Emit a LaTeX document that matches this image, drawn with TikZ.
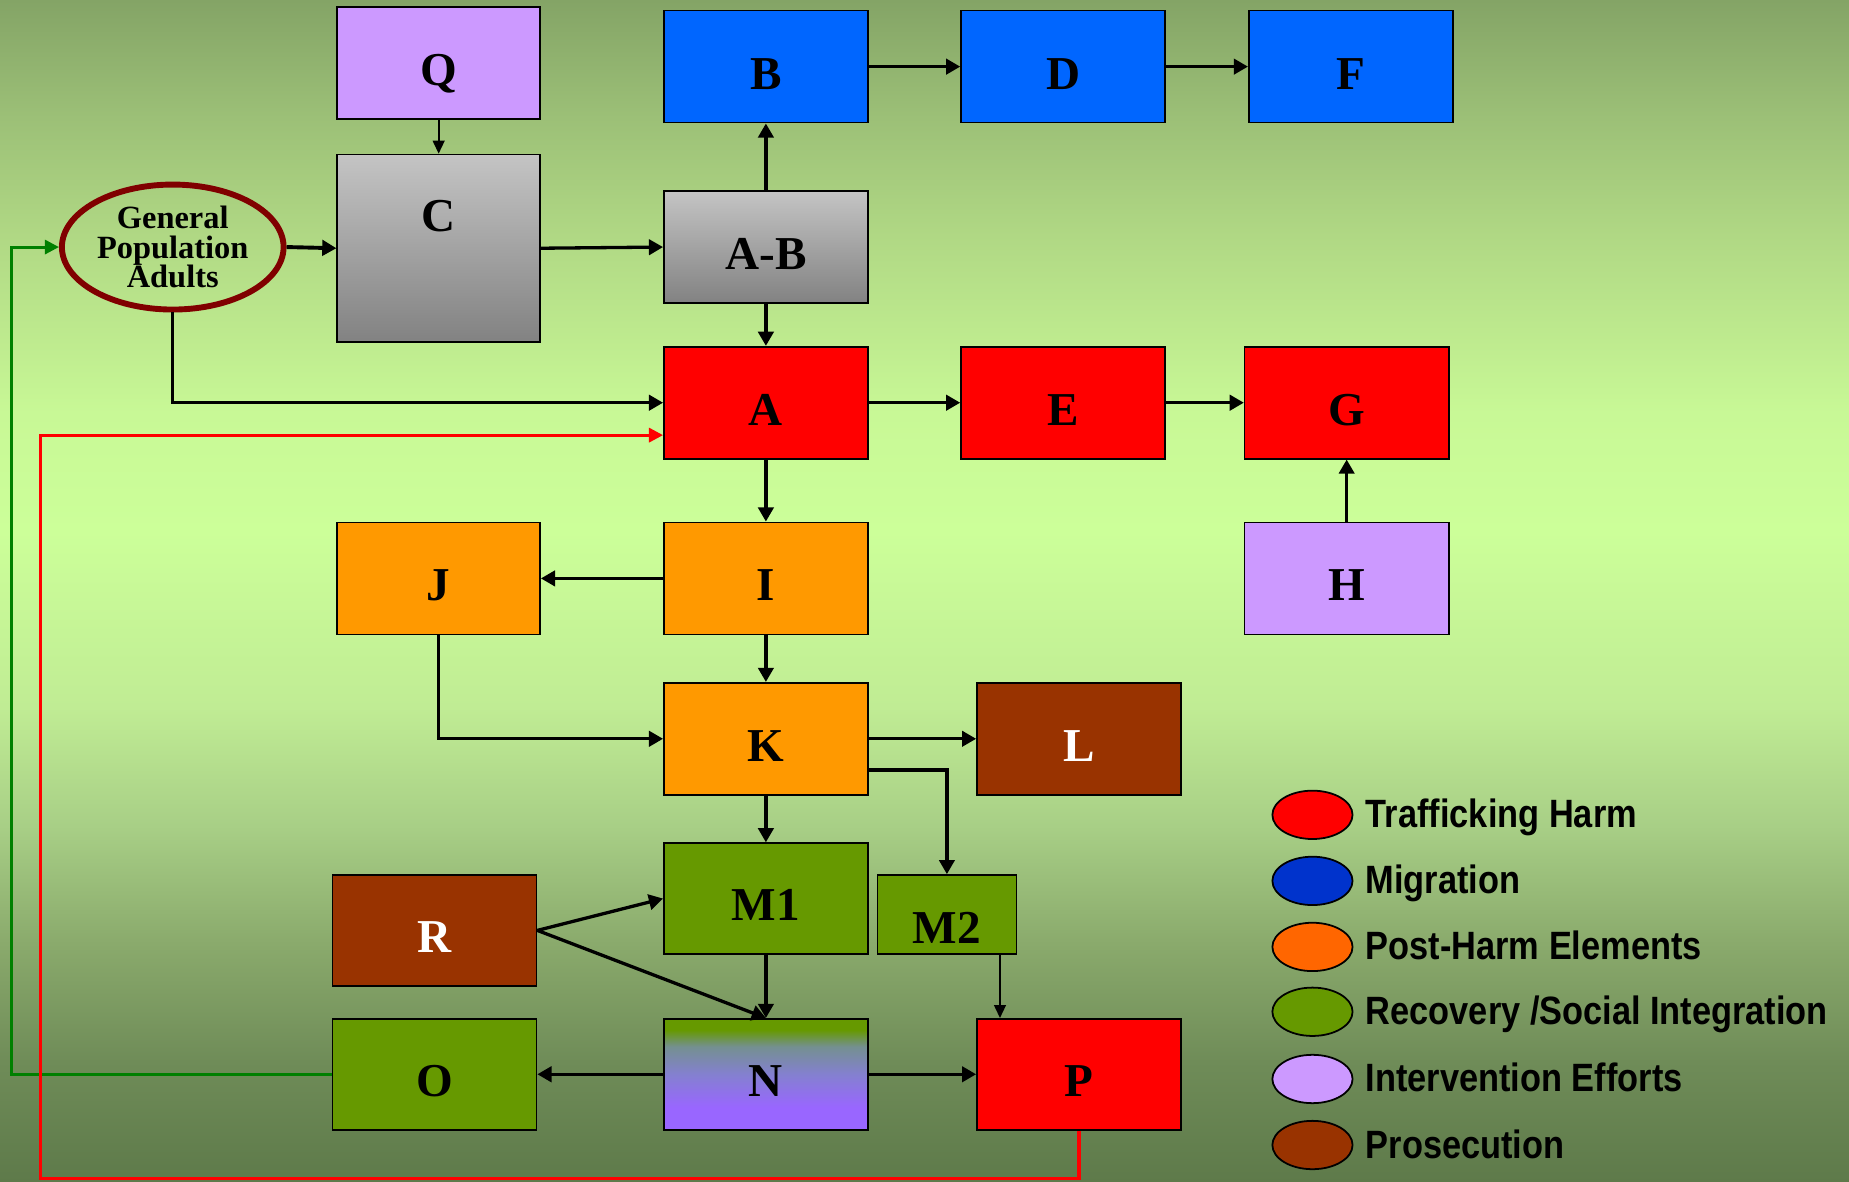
\documentclass[tikz,border=0pt]{standalone}
\usepackage{fontspec}
\setmainfont{Liberation Serif}
\newfontfamily\legfont[FakeStretch=0.87]{Liberation Sans}
\usetikzlibrary{arrows.meta,shapes.geometric,calc}

% palette
\definecolor{bgA}{HTML}{84A466}
\definecolor{bgB}{HTML}{9CC077}
\definecolor{bgC}{HTML}{B0D884}
\definecolor{bgD}{HTML}{C8F896}
\definecolor{bgE}{HTML}{CCFF99}
\definecolor{bgF}{HTML}{C0EC94}
\definecolor{bgG}{HTML}{A8CF86}
\definecolor{bgH}{HTML}{8AAA6C}
\definecolor{bgI}{HTML}{6F8C58}
\definecolor{bgJ}{HTML}{5E7A4A}
\definecolor{cBlue}{HTML}{0066FF}
\definecolor{cRed}{HTML}{FF0000}
\definecolor{cOrange}{HTML}{FF9900}
\definecolor{cLav}{HTML}{CC99FF}
\definecolor{cBrown}{HTML}{993300}
\definecolor{cGreen}{HTML}{669900}
\definecolor{cGrayT}{HTML}{C4C4C4}
\definecolor{cGrayB}{HTML}{828282}
\definecolor{cPurple}{HTML}{9966FF}
\definecolor{cMid}{HTML}{8480D0}
\definecolor{cSlate}{HTML}{749090}
\definecolor{cMaroon}{HTML}{800000}
\definecolor{cLine}{HTML}{008000}
\definecolor{lgBlue}{HTML}{0033CC}
\definecolor{lgOrange}{HTML}{FF6600}

% backdrop: dark at both edges, pale green across the middle
\pgfdeclareverticalshading{backdrop}{100bp}{%
  color(0bp)=(bgJ); color(25bp)=(bgJ); color(30.09bp)=(bgI);
  color(35.08bp)=(bgH); color(40.07bp)=(bgG); color(45.06bp)=(bgF);
  color(52.54bp)=(bgE); color(57.53bp)=(bgD); color(65.02bp)=(bgC);
  color(70.01bp)=(bgB); color(75bp)=(bgA); color(100bp)=(bgA)}

% green-to-purple fill of box N
\pgfdeclareverticalshading{nfill}{100bp}{%
  color(0bp)=(cPurple); color(35bp)=(cPurple); color(50bp)=(cMid);
  color(62.5bp)=(cSlate); color(70bp)=(cGreen); color(100bp)=(cGreen)}

\begin{document}
\begin{tikzpicture}[x=1pt,y=-1pt,
  box/.style={draw=black, line width=1.4pt, inner sep=0pt,
    minimum width=173pt, minimum height=95pt,
    font=\bfseries\fontsize{40}{40}\selectfont,
    text height=38pt, text depth=0pt},
  con/.style={line width=2.8pt, -{Triangle[length=12pt,width=13pt]}},
  thincon/.style={line width=1.6pt, -{Triangle[length=11pt,width=10pt]}},
  loop/.style={line width=2.6pt, -{Triangle[length=12pt,width=12pt]}},
  legdot/.style={ellipse, draw=black, line width=1.5pt, minimum width=68pt,
    minimum height=41pt, inner sep=0pt},
  legtext/.style={anchor=base west, inner sep=0pt,
    font=\legfont\bfseries\fontsize{33.5}{36}\selectfont}
]
\useasboundingbox (0,0) rectangle (1568,1002);
\shade[shading=backdrop] (0,0) rectangle (1568,1002);

% ---- boxes ----
\node[box, fill=cLav, minimum width=172pt] (Q) at (372,53.5) {Q};
\node[box, fill=cBlue] (B) at (649.5,56.5) {B};
\node[box, fill=cBlue] (D) at (901.5,56.5) {D};
\node[box, fill=cBlue] (F) at (1145.5,56.5) {F};
\node[box, top color=cGrayT, bottom color=cGrayB, minimum width=172pt,
      minimum height=159pt, text height=0pt, text depth=28pt] (C) at (372,210.5) {C};
\node[box, top color=cGrayT, bottom color=cGrayB] (AB) at (649.5,209.5) {A-B};
\node[ellipse, draw=cMaroon, line width=5pt, minimum width=188pt, minimum height=106pt,
      inner sep=0pt, align=center,
      font=\bfseries\fontsize{27.5}{25}\selectfont] (gpa) at (146.5,209.5)
      {General\\Population\\Adults};
\node[box, fill=cRed] (A) at (649.5,341.5) {A};
\node[box, fill=cRed] (E) at (901.5,341.5) {E};
\node[box, fill=cRed] (G) at (1142,341.5) {G};
\node[box, fill=cOrange, minimum width=172pt] (J) at (372,490.5) {J};
\node[box, fill=cOrange] (I) at (649.5,490.5) {I};
\node[box, fill=cLav] (H) at (1142,490.5) {H};
\node[box, fill=cOrange] (K) at (649.5,626.5) {K};
\node[box, fill=cBrown, text=white] (L) at (915,626.5) {L};
\node[box, fill=cGreen, minimum height=94pt] (M1) at (649.5,762) {M1};
\node[box, fill=cGreen, minimum width=118pt, minimum height=67pt,
      text height=50pt] (M2) at (803,775.5) {M2};
\node[box, fill=cBrown, text=white, minimum height=94pt] (R) at (368.5,789) {R};
\node[box, fill=cGreen, minimum height=94pt] (O) at (368.5,911) {O};
\node[box, shading=nfill, minimum height=94pt] (N) at (649.5,911) {N};
\node[box, fill=cRed, minimum height=94pt] (P) at (915,911) {P};

% ---- connectors ----
\draw[thincon] (Q) -- (C);
\draw[con, line width=3.3pt] (gpa.east) -- (C.west);
\draw[con] (C.east) -- (AB.west);
\draw[con] (AB) -- (B);
\draw[con] (AB) -- (A);
\draw[con] (B) -- (D);
\draw[con] (D) -- (F);
\draw[con] (gpa.south) |- (A.west);
\draw[con] (A) -- (E);
\draw[con] (E) -- (G);
\draw[con] (H) -- (G);
\draw[con] (A) -- (I);
\draw[con] (I) -- (J);
\draw[con] (I) -- (K);
\draw[con] (J.south) |- (K.west);
\draw[con] (K) -- (L);
\draw[con] ([yshift=-26.5pt]K.east) -| (M2.north);
\draw[con] (K) -- (M1);
\draw[con] (R.east) -- (M1.west);
\draw[con] (R.east) -- (N.north);
\draw[con] (M1) -- (N);
\draw[thincon] ([xshift=45pt]M2.south) -- ([xshift=45pt]M2.south |- P.north);
\draw[con] (N) -- (O);
\draw[con] (N) -- (P);

% feedback loops
\coordinate (gturn) at (10,209.5);
\coordinate (rturn) at (34,999.5);
\draw[loop, cLine] (O.west) -| (gturn) -- (gpa.west);
\draw[loop, cRed] (P.south) |- (rturn) |- ([yshift=-27.5pt]A.west);

% ---- legend ----
\node[legdot, fill=cRed]    (lg1) at (1113,691) {};
\node[legdot, fill=lgBlue]  (lg2) at (1113,747) {};
\node[legdot, fill=lgOrange](lg3) at (1113,803) {};
\node[legdot, fill=cGreen]  (lg4) at (1113,858) {};
\node[legdot, fill=cLav]    (lg5) at (1113,915) {};
\node[legdot, fill=cBrown]  (lg6) at (1113,971) {};
\node[legtext] (lt1) at (1158,702) {Trafficking Harm};
\node[legtext] (lt2) at (1158,758) {Migration};
\node[legtext] (lt3) at (1158,814) {Post-Harm Elements};
\node[legtext] (lt4) at (1158,869) {Recovery /Social Integration};
\node[legtext] (lt5) at (1158,926) {Intervention Efforts};
\node[legtext] (lt6) at (1158,982) {Prosecution};
\end{tikzpicture}
\end{document}
